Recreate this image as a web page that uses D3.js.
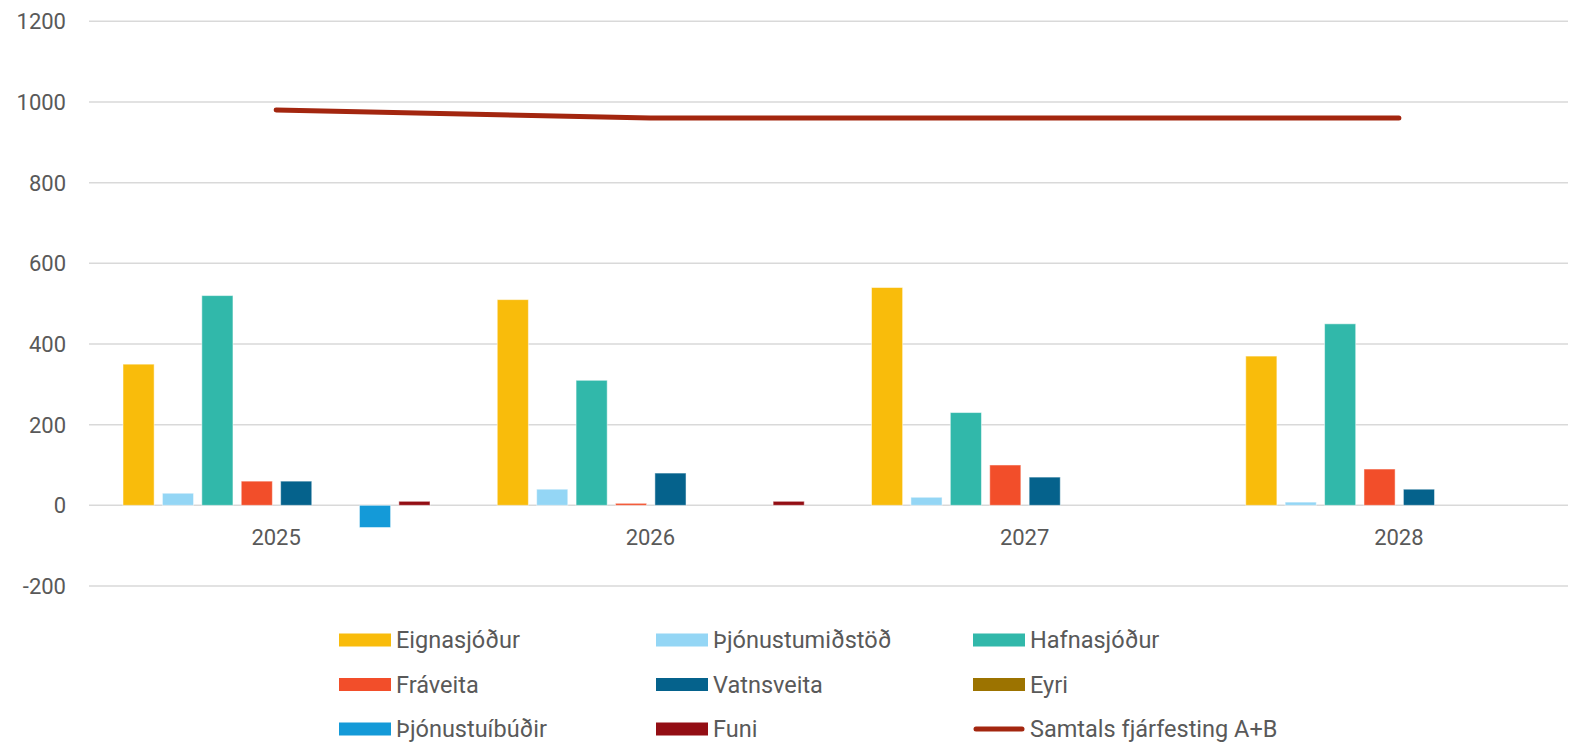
<!DOCTYPE html>
<html>
<head>
<meta charset="UTF-8">
<title>Fjárfesting</title>
<script src="https://cdn.jsdelivr.net/npm/d3@7"></script>
<style type="text/css">
body, html {
    margin: 0;
    padding: 0;
    background: #fff;
}
svg text {
    font-family: Roboto, Arial, sans-serif;
    fill: #595959;
}
.grid line {
    stroke: #d9d9d9;
    stroke-width: 1.5;
}
</style>
</head>
<body>
<div class="chart"></div>
<script type="text/javascript">
// data
var years = ["2025", "2026", "2027", "2028"];
var seriesNames = ["Eignasjóður", "Þjónustumiðstöð", "Hafnasjóður", "Fráveita",
                   "Vatnsveita", "Eyri", "Þjónustuíbúðir", "Funi"];
var eignasjodur      = [350, 510, 540, 370];
var thjonustumidstod = [30, 40, 20, 8];
var hafnasjodur      = [520, 310, 230, 450];
var fraveita         = [60, 5, 100, 90];
var vatnsveita       = [60, 80, 70, 40];
var eyri             = [0, 0, 0, 0];
var thjonustuibudir  = [-55, 0, 0, 0];
var funi             = [10, 10, 0, 0];
var lineName = "Samtals fjárfesting A+B";
var samtals  = [980, 960, 960, 960];
var yTicks = [-200, 0, 200, 400, 600, 800, 1000, 1200];

var seriesValues = [eignasjodur, thjonustumidstod, hafnasjodur, fraveita,
                    vatnsveita, eyri, thjonustuibudir, funi];
var colors = ["#F9BC0B", "#94D6F5", "#31B8AA", "#F24E2A",
              "#05628C", "#9C7300", "#149AD8", "#930E14"];
var lineColor = "#A3260F";

var W = 1573, H = 742;

var svg = d3.select(".chart")
    .append("svg")
    .attr("width", W)
    .attr("height", H);

var x0 = d3.scaleBand().domain(years).range([89, 1586]);
var x1 = d3.scaleBand().domain(seriesNames)
    .range([34, 341])
    .paddingInner(0.21)
    .paddingOuter(0);
var y = d3.scaleLinear().domain([-200, 1200]).range([586, 21.3]);

// gridlines + tick labels
var grid = svg.append("g").attr("class", "grid");
grid.selectAll("line")
    .data(yTicks)
    .enter()
    .append("line")
    .attr("x1", 89)
    .attr("x2", 1568)
    .attr("y1", function (d) { return y(d); })
    .attr("y2", function (d) { return y(d); });

svg.append("g")
    .selectAll("text")
    .data(yTicks)
    .enter()
    .append("text")
    .attr("x", 66)
    .attr("y", function (d) { return y(d); })
    .attr("dy", "0.36em")
    .attr("text-anchor", "end")
    .style("font-size", "22px")
    .text(function (d) { return d; });

// year labels
svg.append("g")
    .selectAll("text")
    .data(years)
    .enter()
    .append("text")
    .attr("x", function (d) { return x0(d) + x0.bandwidth() / 2; })
    .attr("y", 537)
    .attr("dy", "0.36em")
    .attr("text-anchor", "middle")
    .style("font-size", "22px")
    .text(function (d) { return d; });

// bars
var groups = svg.append("g")
    .selectAll("g")
    .data(years)
    .enter()
    .append("g")
    .attr("transform", function (d) { return "translate(" + x0(d) + ",0)"; });

groups.selectAll("rect")
    .data(function (yr, i) {
        return seriesNames.map(function (s, j) {
            return {name: s, value: seriesValues[j][i], color: colors[j]};
        });
    })
    .enter()
    .append("rect")
    .filter(function (d) { return d.value !== 0; })
    .attr("x", function (d) { return x1(d.name); })
    .attr("width", x1.bandwidth())
    .attr("y", function (d) { return Math.min(y(d.value), y(0)); })
    .attr("height", function (d) { return Math.abs(y(d.value) - y(0)); })
    .style("fill", function (d) { return d.color; })
    .attr("stroke", "#fff")
    .attr("stroke-opacity", 0.5)
    .attr("stroke-width", 1);

// total line
var line = d3.line()
    .x(function (d, i) { return x0(years[i]) + x0.bandwidth() / 2; })
    .y(function (d) { return y(d); });

svg.append("path")
    .datum(samtals)
    .attr("d", line)
    .attr("fill", "none")
    .attr("stroke", lineColor)
    .attr("stroke-width", 5)
    .attr("stroke-linecap", "round")
    .attr("stroke-linejoin", "round");

// legend
var legendItems = seriesNames.map(function (s, j) {
    return {name: s, color: colors[j], type: "bar"};
});
legendItems.push({name: lineName, color: lineColor, type: "line"});

var legend = svg.append("g")
    .selectAll("g")
    .data(legendItems)
    .enter()
    .append("g")
    .attr("transform", function (d, i) {
        var col = i % 3, row = Math.floor(i / 3);
        return "translate(" + (339 + col * 317) + "," + (640 + row * 44.5) + ")";
    });

legend.filter(function (d) { return d.type === "bar"; })
    .append("rect")
    .attr("x", 0)
    .attr("y", -6.5)
    .attr("width", 52)
    .attr("height", 13)
    .style("fill", function (d) { return d.color; });

legend.filter(function (d) { return d.type === "line"; })
    .append("line")
    .attr("x1", 3)
    .attr("x2", 49)
    .attr("y1", 0)
    .attr("y2", 0)
    .attr("stroke", function (d) { return d.color; })
    .attr("stroke-width", 5)
    .attr("stroke-linecap", "round");

legend.append("text")
    .attr("x", 57)
    .attr("y", 0)
    .attr("dy", "0.36em")
    .style("font-size", "23.5px")
    .text(function (d) { return d.name; });
</script>
</body>
</html>
